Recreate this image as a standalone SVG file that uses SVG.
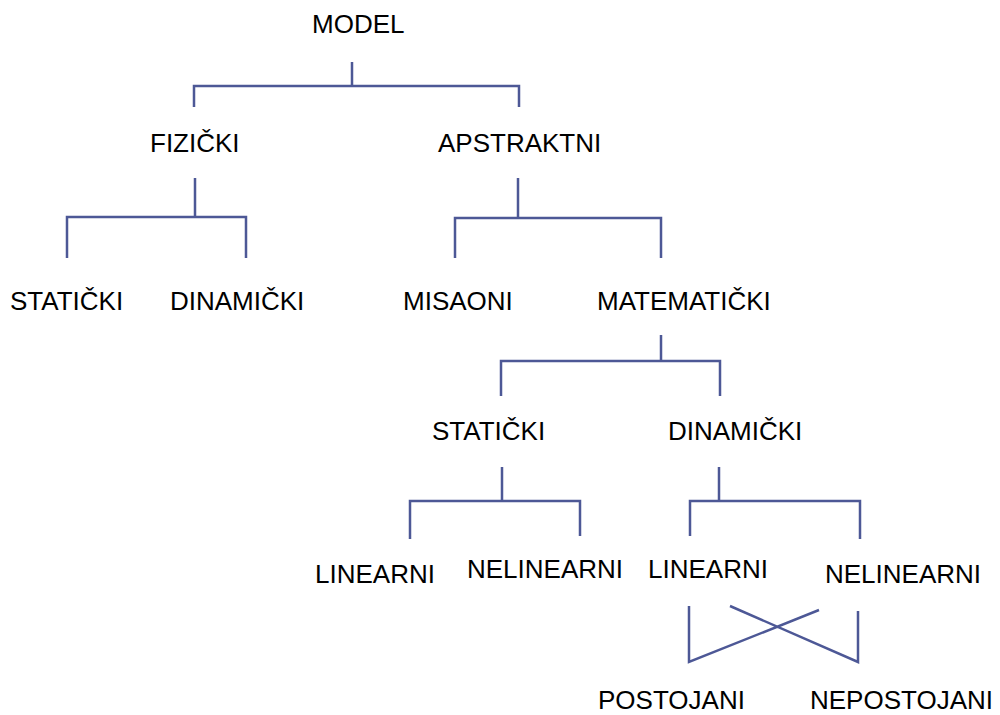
<svg xmlns="http://www.w3.org/2000/svg" width="1000" height="715" viewBox="0 0 1000 715">
<style>
text{font-family:"Liberation Sans",Arial,sans-serif;font-size:26px;fill:#000}
.c{fill:none;stroke:#4d5896;stroke-width:2.5;stroke-linecap:butt;stroke-linejoin:miter}
</style>
<rect width="1000" height="715" fill="#fff"/>
<g id="connectors">
<path class="c" d="M352 62V86M194 107V86H519V107"/>
<path class="c" d="M195 178V217M67 258V217H246V258"/>
<path class="c" d="M518 178V218M455 258V218H661V258"/>
<path class="c" d="M661 335V361M501 396V361H720V396"/>
<path class="c" d="M502 467V501M410 539V501H580V536"/>
<path class="c" d="M719 467V501M690 536V501H860V539"/>
<path class="c" d="M689 606V662L819 610M730 606L858 662V611"/>
</g>
<g id="n-model"><text x="312" y="33">MODEL</text></g>
<g id="n-fizicki"><text x="150" y="152">FIZIČKI</text></g>
<g id="n-apstraktni"><text x="438" y="152">APSTRAKTNI</text></g>
<g id="n-staticki1"><text x="10" y="310">STATIČKI</text></g>
<g id="n-dinamicki1"><text x="170" y="310">DINAMIČKI</text></g>
<g id="n-misaoni"><text x="403" y="310">MISAONI</text></g>
<g id="n-matematicki"><text x="597" y="310">MATEMATIČKI</text></g>
<g id="n-staticki2"><text x="432" y="440">STATIČKI</text></g>
<g id="n-dinamicki2"><text x="668" y="440">DINAMIČKI</text></g>
<g id="n-linearni1"><text x="315" y="583">LINEARNI</text></g>
<g id="n-nelinearni1"><text x="467" y="578">NELINEARNI</text></g>
<g id="n-linearni2"><text x="648" y="578">LINEARNI</text></g>
<g id="n-nelinearni2"><text x="825" y="583">NELINEARNI</text></g>
<g id="n-postojani"><text x="598" y="709">POSTOJANI</text></g>
<g id="n-nepostojani"><text x="810" y="709">NEPOSTOJANI</text></g>
</svg>
